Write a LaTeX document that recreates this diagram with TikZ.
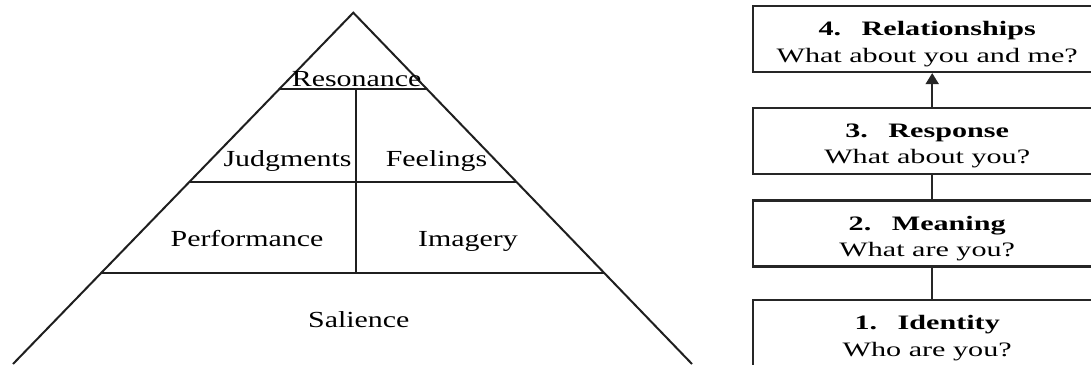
\documentclass[tikz,border=0pt]{standalone}
\usepackage{fontspec}
\newfontfamily\pyrfont[FakeStretch=1.3]{Liberation Serif}
\newfontfamily\boxfont[FakeStretch=1.47]{Liberation Serif}
\usetikzlibrary{calc,arrows.meta}
\begin{document}
\begin{tikzpicture}[x=1pt,y=-1pt,
  pyr/.style={line width=2pt, draw=black!88},
  lbl/.style={font=\pyrfont\fontsize{23}{27}\selectfont, anchor=base, inner sep=0pt},
  levelbox/.style={draw=black!85, line width=2.4pt, minimum width=348pt, minimum height=66pt, inner sep=0pt, anchor=north west},
  boxtxt/.style={font=\boxfont\fontsize{20.5}{26.4}\selectfont, align=center, inner sep=0pt},
  link/.style={line width=1.9pt, draw=black!85}]
\useasboundingbox (0,0) rectangle (1091,364);
\clip (0,0) rectangle (1091,364);
\fill[white] (0,0) rectangle (1091,364);

% pyramid
\coordinate (A) at (353.3,12.7);
\coordinate (L) at (13,364);
\coordinate (R) at (692,364);
\draw[pyr, line join=miter] (L) -- (A) -- (R);
\draw[pyr] ($(A)!0.2172!(L)$) -- ($(A)!0.2172!(R)$);
\draw[pyr] ($(A)!0.4819!(L)$) -- ($(A)!0.4819!(R)$);
\draw[pyr] ($(A)!0.7410!(L)$) -- ($(A)!0.7410!(R)$);
\draw[pyr] (355.6,89) -- (355.6,273);

\node[lbl] (res) at (356.6,86) {Resonance};
\node[lbl] (jud) at (287.5,166.7) {Judgments};
\node[lbl] (fee) at (436.5,166.7) {Feelings};
\node[lbl] (per) at (247,246.7) {Performance};
\node[lbl] (ima) at (468,246.7) {Imagery};
\node[lbl] (sal) at (358.8,327.7) {Salience};

% boxes
\node[levelbox] (b4) at (752,4.7) {};
\node[levelbox] (b3) at (752,106.7) {};
\node[levelbox] (b2) at (752,199.3) {};
\node[levelbox] (b1) at (752,299) {};

\node[boxtxt] (t4) at ([yshift=-5pt]b4.center) {\bfseries 4.\hspace{1em}Relationships\\What about you and me?};
\node[boxtxt] (t3) at ([yshift=-5pt]b3.center) {\bfseries 3.\hspace{1em}Response\\What about you?};
\node[boxtxt] (t2) at ([yshift=-5pt]b2.center) {\bfseries 2.\hspace{1em}Meaning\\What are you?};
\node[boxtxt] (t1) at ([yshift=-5pt]b1.center) {\bfseries 1.\hspace{1em}Identity\\Who are you?};

\draw[link,-{Triangle[length=11pt,width=13pt]}] ([xshift=5pt]b3.north) -- ([xshift=5pt]b4.south);
\draw[link] ([xshift=5pt]b2.north) -- ([xshift=5pt]b3.south);
\draw[link] ([xshift=5pt]b1.north) -- ([xshift=5pt]b2.south);
\end{tikzpicture}
\end{document}
